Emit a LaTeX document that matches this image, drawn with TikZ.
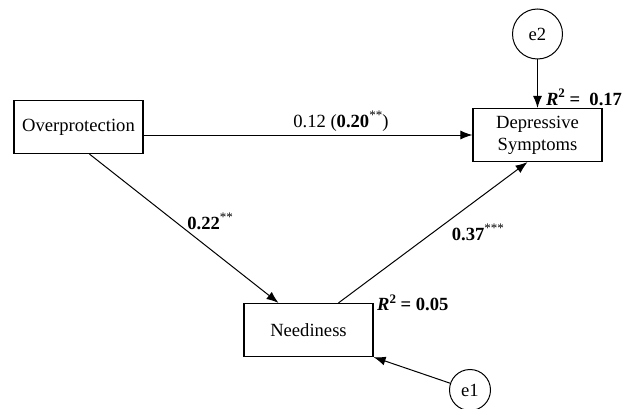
\documentclass[tikz,border=0pt]{standalone}
\usepackage{fontspec}
\setmainfont{Liberation Serif}
\usetikzlibrary{positioning,arrows.meta}
\tikzstyle{var}=[rectangle, draw, line width=1.2pt, minimum width=129pt, minimum height=53pt, inner sep=0pt, align=center]
\tikzstyle{err}=[circle, draw, line width=1pt, inner sep=0pt]
\newcommand{\sups}[1]{\raisebox{0.42em}{\fontsize{13}{13}\selectfont #1}}

\begin{document}
\begin{tikzpicture}[x=1pt,y=1pt,font=\fontsize{18.6}{22}\selectfont,line width=1pt,
    >={Latex[length=12pt,width=9pt]}]
\useasboundingbox (0,0) rectangle (635,408);

        \node[var] (overprot) at (78.5,281) {Overprotection};

        \node[var] (depress) at (537.5,273) {Depressive\\Symptoms};

        \node[var] (needy) at (308.5,78) {Neediness};

        \node[err,
            minimum size=50pt] (e2) at (537.5,374) {e2};

        \node[err,
            minimum size=41pt] (e1) at (470,18) {e1};

% R squared
        \node[right=0pt of needy.north east,
            inner sep=3pt] (r2need) {\textbf{\textit{R}\sups{2} = 0.05}};

        \node[anchor=south west,
            inner sep=2pt] (r2dep) at ([xshift=6pt]depress.north) {\textbf{\textit{R}\sups{2} =\ \ 0.17}};

% Arrows
        \draw[->] (overprot.east |- depress.west) -- (depress.west)
        node[pos=0.6,above] (c1) {0.12 (\textbf{0.20}\sups{**})};

        \draw[->] ([xshift=11pt]overprot.south) -- ([xshift=-30pt]needy.north)
        node[pos=0.45,right=9pt] (c2) {\textbf{0.22}\sups{**}};

        \draw[->] ([xshift=30pt]needy.north) -- ([xshift=-10pt]depress.south)
        node[pos=0.5,right=15pt] (c3) {\textbf{0.37}\sups{***}};

        \draw[->] (e2.south) -- (depress.north);
        \draw[->] (e1) -- (needy.south east);

\end{tikzpicture}
\end{document}
